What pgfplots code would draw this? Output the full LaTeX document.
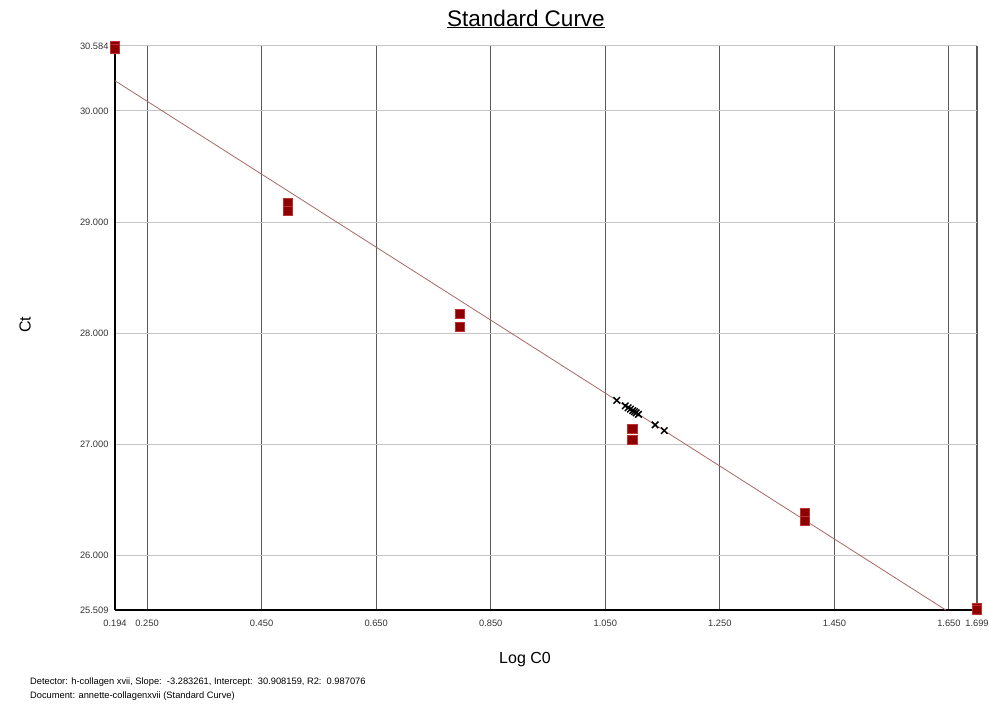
\documentclass[border=0pt]{standalone}
\usepackage{pgfplots}
\pgfplotsset{compat=1.18}
\usepackage{fontspec}
\setmainfont{Liberation Sans}
\definecolor{mk}{HTML}{8E0000}
\definecolor{mkb}{HTML}{C03030}
\definecolor{fitc}{HTML}{A86868}
\definecolor{vgrid}{HTML}{5A5A5A}
\definecolor{hgrid}{HTML}{C4C4C4}
\begin{document}
\begin{tikzpicture}[x=1pt,y=1pt]
\useasboundingbox (0,0) rectangle (990,705);
\begin{axis}[
  at={(115pt,95pt)}, anchor=south west,
  scale only axis, width=862pt, height=564pt,
  xmin=0.194, xmax=1.699, ymin=25.509, ymax=30.584,
  xtick={0.194,0.25,0.45,0.65,0.85,1.05,1.25,1.45,1.65,1.699},
  ytick={25.509,26,27,28,29,30,30.584},
  /pgf/number format/.cd, fixed, fixed zerofill, precision=3, assume math mode=true,
  /pgfplots/.cd,
  ticklabel style={font=\fontsize{9.3}{11}\selectfont, text=black!80},
  xticklabel style={yshift=-6pt},
  yticklabel style={xshift=-3pt},
  major tick length=0pt,
  axis x line*=bottom, axis y line*=left,
  axis line style={black, line width=2pt, -},
  grid=major,
  x grid style={vgrid, line width=1.1pt},
  y grid style={hgrid, line width=1pt},
  clip=false,
]
% fitted standard curve
\addplot[fitc, line width=0.8pt, forget plot] coordinates {(0.194,30.271) (1.6445,25.509)};
% standards (replicates)
\addplot[only marks, mark=square*, mark size=4.6pt, mark options={fill=mk, draw=mkb, line width=0.5pt}] coordinates {
(0.194,30.584) (0.194,30.56)
(0.495,29.171) (0.495,29.103)
(0.796,28.176) (0.796,28.059)
(1.097,27.141) (1.097,27.042)
(1.398,26.381) (1.398,26.309)
(1.699,25.53) (1.699,25.509)
};
% unknowns
\addplot[only marks, mark=x, mark size=4.6pt, mark options={black, line width=1.5pt}] coordinates {
(1.070,27.395) (1.085,27.346) (1.090,27.329) (1.094,27.316) (1.098,27.303)
(1.101,27.294) (1.104,27.284) (1.108,27.270) (1.137,27.175) (1.153,27.123)
};
\end{axis}
\node[font=\fontsize{22.5}{26}\selectfont] at (526,686) {\underline{Standard Curve}};
\node[font=\fontsize{16}{18}\selectfont, rotate=90] at (25,380) {Ct};
\node[font=\fontsize{16}{18}\selectfont] at (525,45) {Log C0};
\node[font=\fontsize{9.3}{10}\selectfont, anchor=west, inner sep=0pt] at (30,23) {Detector: h-collagen xvii, Slope:\ \ -3.283261, Intercept:\ \ 30.908159, R2:\ \ 0.987076};
\node[font=\fontsize{9.3}{10}\selectfont, anchor=west, inner sep=0pt] at (30,9) {Document: annette-collagenxvii (Standard Curve)};
\end{tikzpicture}
\end{document}
